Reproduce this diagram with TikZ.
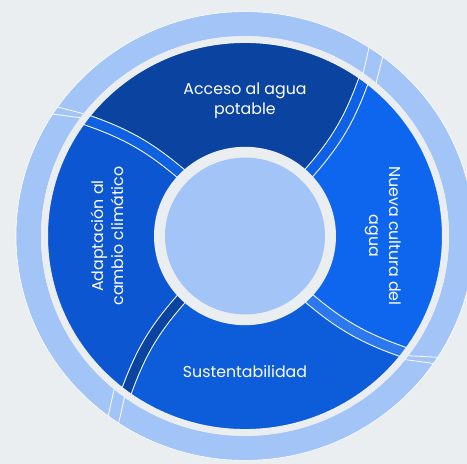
\documentclass[tikz,border=0pt]{standalone}
\usepackage{fontspec}
\setmainfont{Poppins}
\definecolor{bg}{HTML}{EAEEF1}
\definecolor{lightb}{HTML}{A3C4F7}
\definecolor{segtop}{HTML}{0A43A0}
\definecolor{segright}{HTML}{0F66EE}
\definecolor{segbot}{HTML}{0D5CDA}
\definecolor{segleft}{HTML}{0D56D2}
\definecolor{bandne}{HTML}{0E60E4}
\definecolor{bandnw}{HTML}{1061E2}
\definecolor{bandsw}{HTML}{0A44A0}
\definecolor{bandse}{HTML}{2C78EE}
\tikzset{
  lab/.style={text=white, align=center, font=\fontsize{15.8}{20}\selectfont, inner sep=0pt},
  gapline/.style={white, line width=0.8pt},
}
\begin{document}
\begin{tikzpicture}
\useasboundingbox[fill=bg] (-245pt,-228pt) rectangle (222pt,236pt);
\begin{scope}[yscale=0.98]
  % outer ring
  \fill[lightb, even odd rule] (0,0) circle (229pt) (0,0) circle (204pt);
  \draw[white, line width=0.6pt] (0,0) circle (229pt);
  \draw[gapline] (57.2:229pt) -- (54.6:204pt);
  \draw[gapline] (53:229pt) -- (50:204pt);
  \draw[gapline] (147.1:229pt) -- (143.7:204pt);
  \draw[gapline] (144.9:229pt) -- (142.3:204pt);
  \draw[gapline] (236.5:229pt) -- (233.8:204pt);
  \draw[gapline] (233.3:229pt) -- (230.1:204pt);
  \draw[gapline] (327.3:229pt) -- (323.2:204pt);
  \draw[gapline] (325.4:229pt) -- (321.8:204pt);
  % segments
  \foreach \a/\b/\c in {45/135/segtop, 135/225/segleft, 225/315/segbot, -45/45/segright}{
    \fill[\c] (\a:86pt) to[bend right=11] ({\a+8.5}:201pt)
      arc[start angle={\a+8.5}, end angle={\b+8.5}, radius=201pt]
      to[bend left=11] (\b:86pt)
      arc[start angle=\b, end angle=\a, radius=86pt] -- cycle;
  }
  % separator bands
  \foreach \a/\c in {45/bandne, 135/bandnw, 225/bandsw, 315/bandse}{
    \draw[white, line width=11.5pt] (\a:86pt) to[bend right=11] ({\a+8.5}:201pt);
    \draw[\c, line width=9.5pt] (\a:86pt) to[bend right=11] ({\a+8.5}:201pt);
  }
  % gray rings and centre
  \fill[bg, even odd rule] (0,0) circle (204pt) (0,0) circle (197pt);
  \fill[bg] (0,0) circle (91pt);
  \fill[lightb] (0,0) circle (80pt);
\end{scope}
\node[lab] (t1) at (0,135pt) {Acceso al agua\\potable};
\node[lab, rotate=-90] (t2) at (138pt,0) {Nueva cultura del\\agua};
\node[lab] (t3) at (0,-136pt) {Sustentabilidad};
\node[lab, rotate=90] (t4) at (-137.5pt,0) {Adaptación al\\cambio climático};
\end{tikzpicture}
\end{document}
